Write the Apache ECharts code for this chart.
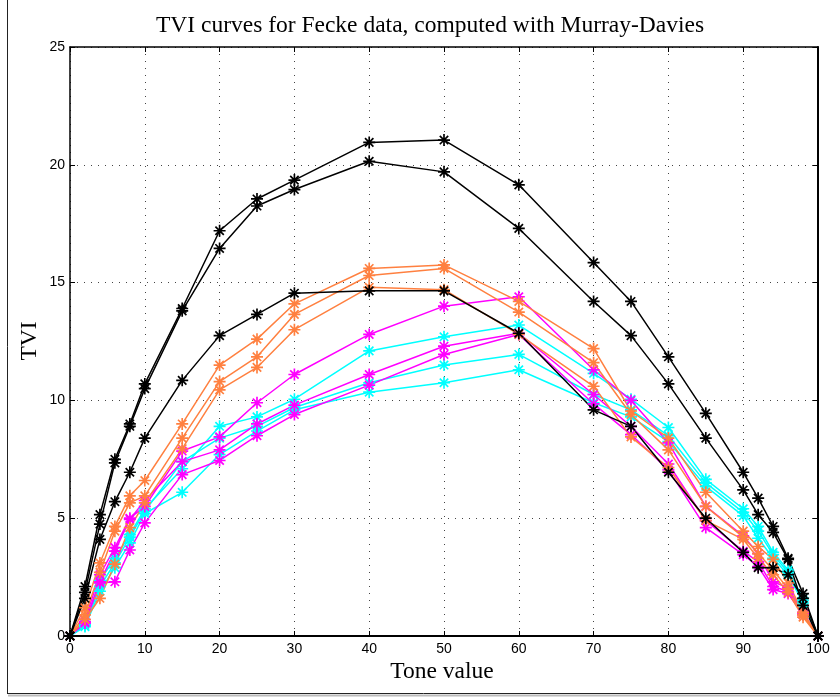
<!DOCTYPE html>
<html>
<head>
<meta charset="utf-8">
<script src="https://cdn.jsdelivr.net/npm/echarts@6/dist/echarts.min.js"></script>
<style>
html,body{margin:0;padding:0;background:#fff;}
#chart{width:840px;height:698px;}
</style>
</head>
<body>
<div id="chart"></div>
<script>
// ---- data ----
const toneValues = [0,2,4,6,8,10,15,20,25,30,40,50,60,70,75,80,85,90,92,94,96,98,100];
const xTicks = [0,10,20,30,40,50,60,70,80,90,100];
const yTicks = [0,5,10,15,20,25];

const black1 = [0,2.1,5.15,7.5,9.0,10.7,13.9,17.2,18.55,19.35,20.95,21.05,19.15,15.85,14.2,11.85,9.45,6.95,5.85,4.65,3.3,1.8,0];
const black2 = [0,1.85,4.75,7.35,8.9,10.5,13.8,16.45,18.25,18.95,20.15,19.7,17.3,14.2,12.75,10.7,8.4,6.2,5.15,4.4,3.25,1.3,0];
const black3 = [0,1.6,4.1,5.7,6.95,8.4,10.85,12.75,13.65,14.55,14.65,14.65,12.85,9.6,8.9,6.95,5.0,3.55,2.9,2.9,2.6,1.6,0];

const orange1 = [0,1.2,3.1,4.65,5.95,6.6,9.0,11.5,12.6,14.1,15.6,15.75,14.2,12.2,9.55,8.4,6.1,4.45,3.8,3.25,2.25,1.0,0];
const orange2 = [0,0.9,2.7,4.45,5.65,5.95,8.4,10.8,11.85,13.65,15.3,15.6,13.75,11.6,9.4,7.9,5.5,4.2,3.5,2.8,2.0,0.9,0];
const orange3 = [0,0.7,1.6,3.05,4.6,5.65,7.95,10.45,11.4,13.0,14.8,14.7,12.8,10.6,8.45,7.15,4.9,4.1,3.3,2.6,1.85,0.8,0];

const magenta1 = [0,0.7,2.6,3.75,5.0,5.5,7.85,8.45,9.9,11.1,12.8,14.0,14.4,11.3,10.0,8.2,5.5,4.25,3.5,2.3,2.05,1.0,0];
const magenta2 = [0,0.6,2.3,3.6,4.95,5.75,7.4,7.9,9.0,9.8,11.1,12.3,12.85,10.25,8.9,7.3,4.9,3.6,3.15,2.1,1.9,0.95,0];
const magenta3 = [0,0.55,2.25,2.3,3.65,4.8,6.85,7.45,8.5,9.4,10.65,11.95,12.8,9.85,8.55,7.05,4.6,3.45,2.95,1.97,1.8,0.9,0];

const cyan1 = [0,0.5,2.35,3.3,4.3,5.4,7.1,8.9,9.3,10.05,12.1,12.7,13.2,11.15,10.05,8.85,6.65,5.4,4.65,3.55,2.8,1.6,0];
const cyan2 = [0,0.45,2.1,3.1,4.2,5.3,7.4,8.4,8.9,9.7,10.75,11.5,11.95,10.25,9.6,8.5,6.5,5.25,4.45,3.45,2.7,1.5,0];
const cyan3 = [0,0.4,1.9,2.9,3.95,5.2,6.1,7.7,8.7,9.6,10.35,10.75,11.3,9.9,9.3,8.25,6.35,5.1,4.15,3.3,2.6,1.4,0];

const titleText = 'TVI curves for Fecke data, computed with Murray-Davies';
const xLabel = 'Tone value';
const yLabel = 'TVI';

// ---- styling ----
const COLORS = {black:'#000000', orange:'#ff8040', magenta:'#ff00ff', cyan:'#00ffff'};
const STAR = 'path://M-1.4,-10L1.4,-10L1.4,10L-1.4,10Z' +
  'M-10,-1.4L10,-1.4L10,1.4L-10,1.4Z' +
  'M-6.0,-8.0L8.0,6.0L6.0,8.0L-8.0,-6.0Z' +
  'M-8.0,6.0L6.0,-8.0L8.0,-6.0L-6.0,8.0Z';

function mk(arr, color) {
  return {
    type: 'line',
    data: toneValues.map((x, i) => [x, arr[i]]),
    symbol: STAR,
    symbolSize: 12,
    showSymbol: true,
    lineStyle: {color: color, width: 1.5},
    itemStyle: {color: color, borderWidth: 0},
    emphasis: {disabled: true},
    animation: false,
    z: 3
  };
}

const series = [
  mk(cyan1, COLORS.cyan), mk(cyan2, COLORS.cyan), mk(cyan3, COLORS.cyan),
  mk(magenta1, COLORS.magenta), mk(magenta2, COLORS.magenta), mk(magenta3, COLORS.magenta),
  mk(orange1, COLORS.orange), mk(orange2, COLORS.orange), mk(orange3, COLORS.orange),
  mk(black1, COLORS.black), mk(black2, COLORS.black), mk(black3, COLORS.black)
];

const tickFont = {fontFamily: 'Liberation Sans', fontSize: 14, color: '#000'};
const gridLine = {show: true, lineStyle: {color: '#444', type: [1, 6], width: 1}};

const chart = echarts.init(document.getElementById('chart'), null, {renderer: 'canvas'});
chart.setOption({
  animation: false,
  backgroundColor: '#fff',
  grid: {left: 70, right: 22, top: 47, bottom: 62, containLabel: false},
  xAxis: [{
    type: 'value', min: xTicks[0], max: xTicks[xTicks.length-1], interval: 10,
    position: 'bottom',
    axisLine: {show: true, onZero: false, lineStyle: {color: '#000', width: 2}},
    axisTick: {show: true, inside: true, length: 5, lineStyle: {color: '#000', width: 1}},
    axisLabel: Object.assign({margin: 6}, tickFont),
    splitLine: gridLine
  }, {
    type: 'value', min: xTicks[0], max: xTicks[xTicks.length-1], interval: 10,
    position: 'top',
    axisLine: {show: true, onZero: false, lineStyle: {color: '#000', width: 1.5}},
    axisTick: {show: true, inside: true, length: 5, lineStyle: {color: '#000', width: 1}},
    axisLabel: {show: false},
    splitLine: {show: false}
  }],
  yAxis: [{
    type: 'value', min: yTicks[0], max: yTicks[yTicks.length-1], interval: 5,
    position: 'left',
    axisLine: {show: true, onZero: false, lineStyle: {color: '#000', width: 1.5}},
    axisTick: {show: true, inside: true, length: 5, lineStyle: {color: '#000', width: 1}},
    axisLabel: Object.assign({margin: 5}, tickFont),
    splitLine: gridLine
  }, {
    type: 'value', min: yTicks[0], max: yTicks[yTicks.length-1], interval: 5,
    position: 'right',
    axisLine: {show: true, onZero: false, lineStyle: {color: '#000', width: 2}},
    axisTick: {show: true, inside: true, length: 5, lineStyle: {color: '#000', width: 1}},
    axisLabel: {show: false},
    splitLine: {show: false}
  }],
  series: series,
  graphic: [
    {type: 'text', x: 430, y: 14, style: {text: titleText, font: '23.5px "Liberation Serif"', fill: '#000', textAlign: 'center', textVerticalAlign: 'top'}, silent: true},
    {type: 'text', x: 442, y: 660, style: {text: xLabel, font: '23.5px "Liberation Serif"', fill: '#000', textAlign: 'center', textVerticalAlign: 'top'}, silent: true},
    {type: 'text', x: 30, y: 341, rotation: Math.PI/2, style: {text: yLabel, font: '23.5px "Liberation Serif"', fill: '#000', textAlign: 'center', textVerticalAlign: 'middle'}, silent: true},
    {type: 'line', shape: {x1: 7.5, y1: 0, x2: 7.5, y2: 693}, style: {stroke: '#222', lineWidth: 1}, silent: true},
    {type: 'line', shape: {x1: 7, y1: 693.5, x2: 840, y2: 693.5}, style: {stroke: '#222', lineWidth: 1}, silent: true},
    {type: 'line', shape: {x1: 8, y1: 695.5, x2: 840, y2: 695.5}, style: {stroke: '#bbb', lineWidth: 2}, silent: true}
  ]
});
</script>
</body>
</html>
